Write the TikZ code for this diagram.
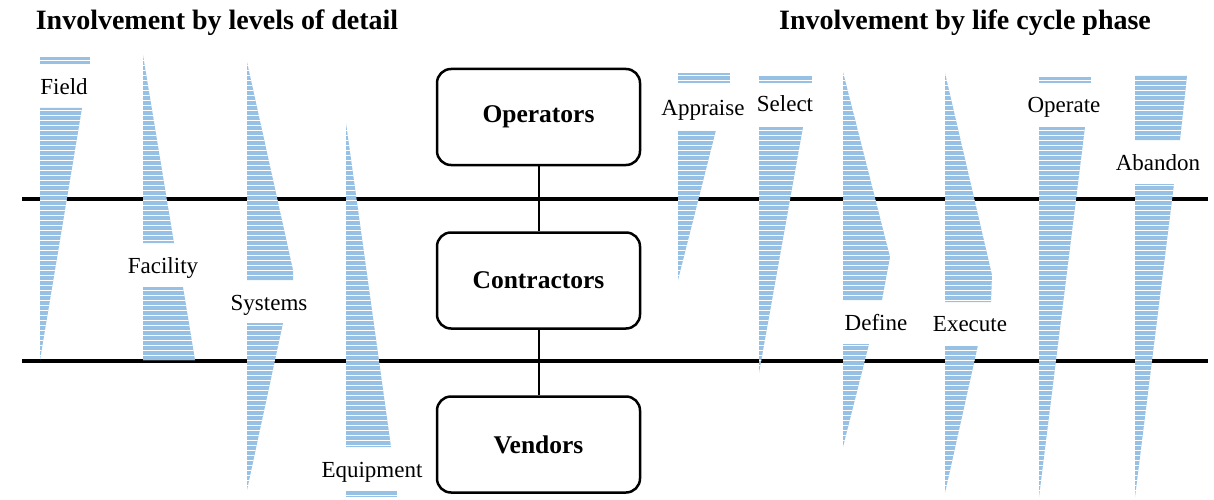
\documentclass[tikz,border=0pt]{standalone}
\usepackage{fontspec}
\setmainfont{Liberation Serif}
\definecolor{stripeblue}{RGB}{150,192,228}
\tikzset{
  boxstyle/.style={draw=black, line width=2.5pt, rounded corners=14pt, minimum width=203pt, minimum height=96pt, inner sep=0pt, font=\fontsize{25.5}{28}\selectfont\bfseries},
  lbl/.style={font=\fontsize{23}{26}\selectfont, anchor=base, inner sep=0pt},
  ttl/.style={font=\fontsize{28}{32}\selectfont\bfseries, anchor=base, inner sep=0pt},
  hline/.style={line width=4pt},
  conn/.style={line width=2pt},
}
\newcommand\stripeshape[1]{%
  \fill[stripeblue] #1;
  \begin{scope}\clip #1;
    \foreach \yy in {0,5,...,500} \draw[white, line width=0.9pt] (0,\yy) -- (1214,\yy);
  \end{scope}}
\begin{document}
\begin{tikzpicture}[x=1pt,y=-1pt]
\useasboundingbox (0,0) rectangle (1214,500);
% titles
\node[ttl] (t1) at (217,30) {Involvement by levels of detail};
\node[ttl] (t2) at (965,30) {Involvement by life cycle phase};
% horizontal lines
\coordinate (h1a) at (22,199); \coordinate (h1b) at (1208,199);
\coordinate (h2a) at (22,361); \coordinate (h2b) at (1208,361);
\draw[hline] (h1a) -- (h1b);
\draw[hline] (h2a) -- (h2b);
% boxes
\node[boxstyle] (op) at (538.5,117) {Operators};
\node[boxstyle] (ct) at (538.5,280.5) {Contractors};
\node[boxstyle] (vd) at (538.5,444.5) {Vendors};
\draw[conn] (op.south) -- (ct.north);
\draw[conn] (ct.south) -- (vd.north);
% left shapes
\stripeshape{(40,57) rectangle (90,64)}
\stripeshape{(40,108) -- (82,108) -- (40,360) -- cycle}
\stripeshape{(143,55) -- (174,243) -- (143,243) -- cycle}
\stripeshape{(143,287) -- (183,287) -- (195,360) -- (143,360) -- cycle}
\stripeshape{(247,62) -- (293,270) -- (293,280) -- (247,280) -- cycle}
\stripeshape{(247,323) -- (283,323) -- (247,490) -- cycle}
\stripeshape{(346,123) -- (391,447) -- (346,447) -- cycle}
\stripeshape{(346,490) rectangle (397,497)}
% right shapes
\stripeshape{(678,73) rectangle (730,83)}
\stripeshape{(678,130) -- (716,130) -- (678,280) -- cycle}
\stripeshape{(759,76) rectangle (812,83)}
\stripeshape{(759,127) -- (803,127) -- (759,373) -- cycle}
\stripeshape{(843,72) -- (890,257) -- (882,300) -- (843,300) -- cycle}
\stripeshape{(843,344) -- (869,344) -- (843,447) -- cycle}
\stripeshape{(945,73) -- (992,275) -- (991,302) -- (945,302) -- cycle}
\stripeshape{(945,345) -- (978,345) -- (945,493) -- cycle}
\stripeshape{(1039,77) rectangle (1091,83)}
\stripeshape{(1039,127) -- (1085,127) -- (1039,497) -- cycle}
\stripeshape{(1135,76) -- (1187,76) -- (1180,140) -- (1135,140) -- cycle}
\stripeshape{(1135,184) -- (1174,184) -- (1135,497) -- cycle}
% labels
\node[lbl] (lfield) at (64,95) {Field};
\node[lbl] (lfac) at (163,273) {Facility};
\node[lbl] (lsys) at (269,310) {Systems};
\node[lbl] (lequ) at (372,477) {Equipment};
\node[lbl] (lapp) at (703,115) {Appraise};
\node[lbl] (lsel) at (785,112) {Select};
\node[lbl] (ldef) at (876,330) {Define};
\node[lbl] (lexe) at (970,331) {Execute};
\node[lbl] (lope) at (1064,113) {Operate};
\node[lbl] (laba) at (1158,170) {Abandon};
\end{tikzpicture}
\end{document}
